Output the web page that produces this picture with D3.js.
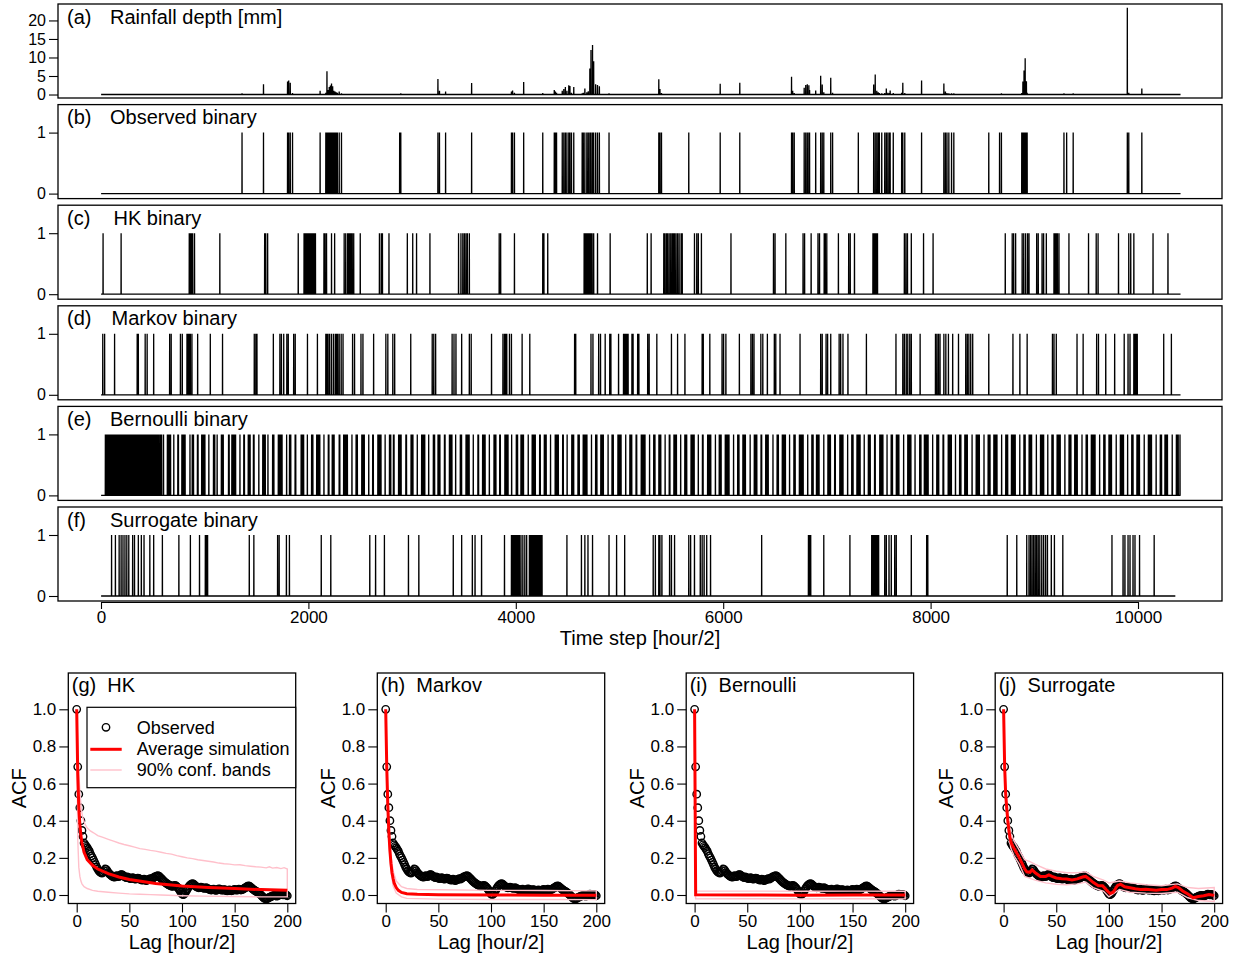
<!DOCTYPE html>
<html>
<head>
<meta charset="utf-8">
<script src="https://cdn.jsdelivr.net/npm/d3@7/dist/d3.min.js"></script>
<style>
  body { margin: 0; background: #fff; }
  svg { display: block; }
  text { font-family: "Liberation Sans", Arial, Helvetica, sans-serif; fill: #000; }
</style>
</head>
<body>
<svg id="fig" width="1237" height="955"></svg>
<script>
// ---------------- data ----------------
const nSteps = 10410;            // half-hourly steps in the record
const nStepsSurrogate = 10360;   // length of the surrogate series
const timeTicks = [0, 2000, 4000, 6000, 8000, 10000];
const rainTicks = [0, 5, 10, 15, 20];
const binaryTicks = [0, 1];

// observed rainfall: [time step, depth in mm]
const rainfall = [
  [1360,0.3],[1567,2.8],[1799,3.5],[1810,3.8],[1825,3.2],[1847,0.4],[2113,1.0],[2168,0.5],
  [2179,6.3],[2190,1.2],[2201,2.0],[2212,2.4],[2223,3.0],[2234,2.2],[2245,1.0],[2257,0.8],
  [2268,0.6],[2279,0.5],[2297,0.8],[2319,0.3],[2880,0.2],[2891,0.3],[3249,4.2],[3264,1.0],
  [3323,0.8],[3574,3.1],[3958,0.8],[3969,1.1],[3987,0.5],[4076,3.4],[4260,0.4],[4371,1.2],
  [4382,0.8],[4393,0.5],[4448,1.0],[4463,1.5],[4478,2.0],[4493,1.0],[4511,2.5],[4522,2.3],
  [4537,0.5],[4559,2.0],[4640,0.3],[4651,0.5],[4666,1.6],[4685,0.6],[4699,0.9],[4714,7.0],
  [4725,12.0],[4740,13.4],[4751,9.0],[4770,2.8],[4788,2.6],[4806,2.2],[4899,0.3],
  [5379,4.1],[5390,1.5],[5405,0.4],[5668,0.2],[5971,2.9],[6160,3.2],[6659,4.8],[6670,1.0],
  [6685,0.4],[6781,1.8],[6796,2.6],[6811,2.8],[6826,2.5],[6833,1.2],[6892,1.1],[6940,5.1],
  [6955,2.7],[6970,0.6],[7037,4.5],[7055,0.5],[7303,0.2],[7451,2.7],[7466,5.4],[7481,1.0],
  [7495,0.6],[7506,0.4],[7529,0.3],[7558,0.4],[7573,1.6],[7588,0.5],[7603,0.4],[7610,1.1],
  [7640,0.4],[7721,0.5],[7732,3.2],[7751,0.4],[7913,3.8],[8128,3.0],[8143,0.8],[8158,0.4],
  [8176,0.3],[8202,0.3],[8224,0.3],[8561,0.2],[8665,0.2],[8683,0.3],[8879,0.4],[8890,3.5],
  [8901,6.5],[8912,9.8],[8924,3.6],[8931,0.5],[9286,0.3],[9312,0.2],[9375,0.3],[9897,23.4],
  [9911,0.5],[10037,1.6]
];

// wet steps (value 1) of the simulated binary series
const hkEvents = [
  20,194,851,862,873,884,902,1146,1578,1589,1607,1902,1958,1969,1980,1991,2002,2013,2024,2035,
  2046,2057,2068,2150,2161,2175,2223,2253,2345,2360,2378,2389,2400,2411,2423,2437,2500,2685,2703,
  2714,2777,2954,3006,3043,3172,3448,3471,3489,3504,3519,3533,3552,3840,3854,3987,4260,4271,4308,
  4659,4670,4681,4692,4703,4714,4725,4736,4751,4788,4910,5268,
  5305,5427,5438,5453,5464,5479,5494,5508,5520,5531,5545,5560,5575,5594,5605,5723,5745,5760,5790,
  6075,6485,6500,6604,6770,6785,6848,6914,6929,6974,6985,6999,7111,7210,7225,7266,7444,7455,7466,
  7477,7488,7747,7762,7777,7814,7932,8024,8720,8787,8801,8820,8883,8898,8916,8935,8949,9023,9038,
  9075,9090,9116,9190,9201,9212,9223,9238,9334,9523,9597,9615,9812,9911,9930,9960,10145,10289
];
const markovEvents = [
  17,35,131,349,360,426,445,508,662,677,766,784,829,840,851,862,877,932,1054,1172,1478,1493,1504,
  1662,1725,1740,1762,1792,1806,1858,1873,1991,2087,2168,2179,2190,2205,2223,2242,2260,2271,2282,
  2297,2316,2334,2426,2445,2507,2526,2629,2747,2766,2814,2832,2987,3194,3209,3227,3386,3404,3423,
  3478,3552,3570,3766,3876,3891,3902,3913,3939,3958,4061,4135,4567,4578,4725,4744,4799,4817,4862,
  4906,4917,4991,
  5039,5050,5061,5072,5083,5120,5131,5175,5187,5272,5286,5360,5501,5560,5631,5797,5808,5871,5989,
  6004,6026,6156,6267,6282,6297,6363,6382,6426,6493,6507,6548,6741,6940,6955,6992,7007,7037,7118,
  7133,7155,7203,7381,7666,7732,7747,7765,7780,7799,7814,7899,8047,8061,8076,8091,8128,8147,8172,
  8213,8269,8339,8354,8369,8387,8406,8561,8794,8861,8931,9175,9190,9212,9412,9471,9601,9619,9689,
  9775,9867,9904,9923,9960,9971,9982,9993,10248,10322
];
const bernoulliEvents = [
  42,51,58,66,73,85,92,99,108,116,121,133,140,147,159,166,174,180,191,197,206,214,225,231,240,248,
  255,263,272,279,290,298,305,311,322,330,338,345,356,363,371,380,388,394,405,413,420,431,438,446,
  452,463,470,479,488,495,503,512,520,529,537,546,553,
  566,572,579,585,603,640,645,652,658,664,671,702,741,747,780,786,792,799,805,811,858,880,886,892,
  930,936,971,978,984,990,996,1002,1040,1085,1091,1097,1120,1161,1167,1173,1179,1230,1236,1262,1268,
  1274,1280,1286,1292,1298,1340,1377,1383,1420,1426,1432,1438,1470,1476,
  1522,1560,1566,1572,1578,1584,1610,1655,1661,1667,1710,1716,1722,1728,1734,1740,1746,1790,1818,
  1824,1830,1872,1878,1930,1936,1942,1948,1954,1990,2031,2037,2043,2080,2086,2092,2098,2104,2110,
  2150,2192,2198,2230,2236,2242,2248,2297,2303,2340,2346,2352,2358,2364,2370,2376,2420,2460,2466,2472,
  2515,2521,2527,2533,2539,2582,2620,2626,2670,2676,2682,2688,2694,2700,2740,2782,2788,2794,2820,
  2826,2870,2876,2882,2888,2894,2940,2946,2990,2996,3002,3008,3050,3092,3098,3104,3110,3116,3122,
  3160,3205,3211,3217,3250,3256,3262,3268,3312,3318,3360,3366,3372,3378,3384,3420,3465,3471,3477,
  3520,3526,3532,3538,3544,3550,3590,3635,3641,3680,3686,3692,3698,3704,3745,3790,3796,3802,3808,
  3845,3851,3895,3901,3907,3913,3919,3925,3960,4005,4011,4017,4050,4056,4062,4068,4074,4120,4158,
  4164,4170,4176,4182,4188,4230,4236,4275,4281,4287,4293,4335,4380,4386,4392,4398,4404,4410,4452,
  4458,4495,
  4540,4546,4552,4558,4600,4606,4612,4650,4656,4662,4668,4674,4680,4686,4730,4770,4776,4782,4820,
  4826,4832,4838,4844,4890,4928,4934,4940,4985,4991,4997,5003,5009,5015,5060,5100,5106,5112,5118,
  5160,5166,5210,5216,5222,5228,5234,5240,5246,5290,5330,5336,5342,5380,5386,5392,5398,5440,5480,5486,
  5525,5531,5537,5543,5549,5590,5630,5636,5642,5648,5690,5696,5702,5708,5714,5720,5760,5800,5806,
  5850,5856,5862,5868,5874,5880,5925,5962,5968,5974,5980,6020,6026,6032,6038,6044,6050,6056,6100,
  6140,6146,6152,6190,6196,6202,6208,6214,6260,6300,6306,6312,6318,6324,6365,6371,6410,6416,6422,
  6428,6434,6480,
  6520,6526,6532,6570,6576,6582,6588,6594,6600,6640,6682,6688,6694,6735,6741,6747,6753,6759,6765,
  6771,6815,6855,6861,6867,6900,6906,6912,6918,6924,6970,7010,7016,7022,7028,7034,7075,7081,7125,
  7131,7137,7143,7149,7155,7200,7240,7246,7252,7290,7296,7302,7308,7314,7320,7360,7400,7406,7412,
  7418,7460,7466,
  7510,7516,7522,7528,7534,7540,7580,7620,7626,7632,7670,7676,7682,7688,7694,7740,7780,7786,7792,
  7798,7804,7810,7850,7895,7901,7907,7940,7946,7952,7958,7964,7970,7976,8020,8060,8066,8072,8078,
  8120,8126,8170,8176,8182,8188,8194,8200,8240,8280,8286,8292,8330,8336,8342,8348,8354,8400,8440,
  8446,8452,8458,8464,8470,
  8515,8555,8561,8567,8573,8610,8616,8622,8628,8634,8640,8685,8725,8731,8737,8743,8780,8786,8792,
  8798,8804,8810,8816,8860,8900,8906,8912,8950,8956,8962,8968,8974,9020,9060,9066,9072,9078,9084,
  9090,9130,9170,9176,9182,9220,9226,9232,9238,9244,9250,9295,9335,9341,9347,9353,9390,9396,9402,
  9408,9414,9460,
  9500,9506,9512,9550,9556,9562,9568,9574,9580,9586,9630,9670,9676,9682,9720,9726,9732,9738,9744,
  9790,9830,9836,9842,9848,9854,9860,9900,9940,9946,9952,9990,9996,10002,10008,10014,10060,10100,
  10106,10112,10118,10124,10130,10175,10215,10221,10227,10260,10266,10272,10278,10284,10330,10370,
  10376,10382,10388,10405
];
const surrogateEvents = [
  102,139,175,194,212,231,249,268,305,323,360,389,415,471,508,592,751,862,950,1006,1017,1028,1430,
  1474,1703,1718,1788,1817,2124,2216,2592,2648,2733,2965,3065,3397,3478,3581,3607,3670,3891,3958,
  3969,3980,3991,4002,4013,4024,4035,4050,4068,4087,4105,4131,4142,4153,4164,4175,4186,4197,4208,
  4219,4230,4241,4253,4493,4633,4666,4696,4740,4899,4972,
  5050,5325,5346,5379,5390,5409,5483,5501,5531,5668,5686,5723,5779,5797,5816,5841,5878,6371,6822,
  6833,6844,6970,7222,7432,7444,7455,7466,7477,7488,7499,7558,7573,7599,7621,7654,7669,7814,7962,
  7973,8739,8831,8927,8949,8964,8979,8994,9009,9023,9038,9053,9072,9090,9109,9127,9164,9194,9275,
  9749,9856,9874,9904,9923,9952,9971,10015,10156
];

// autocorrelation of the observed binary series, lags 0..200
const lagTicks = [0, 50, 100, 150, 200];
const acfTicks = [0, 0.2, 0.4, 0.6, 0.8, 1.0];
const observedAcf = [
  1.000,0.690,0.543,0.470,0.400,0.348,0.315,0.280,0.270,0.262,
  0.255,0.245,0.236,0.222,0.210,0.200,0.188,0.176,0.163,0.150,
  0.140,0.131,0.124,0.120,0.118,0.122,0.130,0.140,0.138,0.130,
  0.121,0.114,0.109,0.104,0.100,0.098,0.096,0.099,0.104,0.101,
  0.099,0.104,0.109,0.110,0.105,0.100,0.097,0.094,0.098,0.095,
  0.091,0.088,0.090,0.093,0.091,0.087,0.085,0.088,0.091,0.089,
  0.086,0.083,0.080,0.082,0.085,0.081,0.078,0.080,0.083,0.086,
  0.088,0.086,0.089,0.093,0.097,0.099,0.101,0.104,0.102,0.097,
  0.091,0.085,0.079,0.073,0.068,0.064,0.060,0.056,0.053,0.050,
  0.048,0.046,0.049,0.052,0.050,0.045,0.040,0.033,0.024,0.015,
  0.006,0.002,0.004,0.012,0.022,0.032,0.041,0.049,0.055,0.059,
  0.061,0.058,0.053,0.048,0.044,0.041,0.039,0.040,0.042,0.040,
  0.038,0.036,0.037,0.039,0.036,0.033,0.030,0.028,0.027,0.029,
  0.031,0.028,0.025,0.026,0.030,0.033,0.031,0.028,0.026,0.027,
  0.029,0.027,0.024,0.022,0.024,0.027,0.025,0.023,0.025,0.028,
  0.030,0.028,0.026,0.028,0.031,0.029,0.027,0.029,0.032,0.035,
  0.038,0.042,0.046,0.049,0.047,0.043,0.038,0.033,0.029,0.025,
  0.021,0.018,0.014,0.010,0.005,0.000,-0.006,-0.012,-0.017,-0.020,
  -0.021,-0.019,-0.016,-0.013,-0.010,-0.008,-0.005,-0.003,-0.002,-0.004,
  -0.006,-0.004,-0.001,0.002,0.004,0.003,0.001,0.003,0.002,-0.001,
  -0.004
];

// simulated ACF: ensemble average and 90% bands, [lag, value]
const hkMean = [[0,1],[1,0.65],[2,0.47],[3,0.38],[4,0.32],[5,0.28],[7,0.23],[10,0.19],[15,0.16],[20,0.14],
  [30,0.115],[40,0.097],[50,0.084],[75,0.062],[100,0.049],[125,0.041],[150,0.035],[175,0.029],[200,0.025]];
const hkUpper = [[0,1],[1,0.8],[2,0.66],[3,0.56],[4,0.49],[5,0.44],[6,0.41],[8,0.38],[10,0.36],[13,0.345],
  [16,0.335],[20,0.32],[25,0.31],[30,0.3],[35,0.29],[40,0.28],[45,0.272],[50,0.265],[55,0.258],[60,0.25],
  [65,0.246],[70,0.24],[75,0.236],[80,0.23],[85,0.224],[90,0.22],[95,0.212],[100,0.206],[105,0.2],
  [110,0.196],[115,0.19],[120,0.186],[125,0.182],[130,0.178],[135,0.172],[140,0.168],[145,0.166],
  [150,0.162],[155,0.163],[160,0.158],[165,0.155],[170,0.152],[175,0.15],[180,0.146],[183,0.152],
  [186,0.145],[190,0.148],[194,0.142],[197,0.147],[200,0.14]];
const hkLower = [[0,1],[1,0.3],[2,0.15],[3,0.1],[4,0.075],[5,0.06],[7,0.045],[10,0.035],[15,0.025],[20,0.02],
  [30,0.015],[40,0.01],[50,0.006],[60,0.004],[70,0.002],[80,0.0],[100,-0.004],[120,-0.006],[150,-0.008],
  [175,-0.01],[200,-0.01]];
const markovMean = [[0,1],[1,0.69],[2,0.48],[3,0.34],[4,0.24],[5,0.17],[6,0.12],[7,0.09],[8,0.065],[10,0.04],
  [12,0.025],[15,0.014],[20,0.007],[30,0.004],[50,0.002],[100,0.0],[150,-0.001],[200,-0.001]];
const markovUpper = [[0,1],[1,0.72],[2,0.52],[3,0.38],[4,0.28],[5,0.21],[7,0.13],[10,0.075],[15,0.045],
  [20,0.035],[30,0.03],[50,0.028],[100,0.025],[150,0.024],[200,0.022]];
const markovLower = [[0,1],[1,0.66],[2,0.44],[3,0.3],[4,0.2],[5,0.13],[7,0.05],[10,0.01],[15,-0.01],
  [20,-0.018],[50,-0.022],[100,-0.024],[150,-0.024],[200,-0.025]];
const bernoulliMean = [[0,1],[1,0.001],[50,0.0],[100,-0.001],[150,0.0],[200,0.0]];
const bernoulliUpper = [[0,1],[1,0.022],[50,0.021],[100,0.02],[150,0.021],[200,0.02]];
const bernoulliLower = [[0,1],[1,-0.021],[50,-0.02],[100,-0.021],[150,-0.02],[200,-0.021]];
const surrogateMean = [[0,1],[1,0.69],[2,0.54],[3,0.465],[4,0.4],[5,0.35],[6,0.31],[7,0.285],[8,0.27],
  [10,0.25],[12,0.23],[15,0.2],[18,0.165],[20,0.14],[22,0.125],[25,0.122],[27,0.135],[30,0.12],[35,0.1],
  [40,0.1],[43,0.108],[46,0.1],[50,0.092],[55,0.088],[60,0.086],[65,0.081],[70,0.087],[75,0.097],
  [78,0.1],[80,0.092],[85,0.068],[90,0.05],[94,0.05],[98,0.025],[101,0.008],[104,0.015],[108,0.05],
  [111,0.058],[115,0.044],[120,0.039],[125,0.034],[130,0.03],[135,0.031],[140,0.028],[145,0.025],
  [150,0.029],[155,0.029],[160,0.037],[163,0.046],[166,0.04],[170,0.022],[175,0.005],[180,-0.015],
  [185,-0.008],[190,-0.004],[195,0.003],[200,-0.002]];
const surrogateUpper = [[0,1],[1,0.71],[2,0.57],[3,0.5],[4,0.44],[5,0.39],[7,0.33],[10,0.29],[15,0.24],
  [20,0.19],[25,0.18],[30,0.165],[40,0.14],[50,0.128],[60,0.12],[70,0.12],[78,0.125],[85,0.1],[95,0.08],
  [100,0.065],[110,0.075],[120,0.065],[135,0.055],[150,0.05],[165,0.06],[175,0.04],[185,0.035],[200,0.04]];
const surrogateLower = [[0,1],[1,0.67],[2,0.51],[3,0.43],[4,0.36],[5,0.31],[7,0.25],[10,0.21],[15,0.165],
  [20,0.1],[25,0.09],[30,0.08],[40,0.065],[50,0.058],[60,0.055],[70,0.06],[78,0.07],[85,0.04],[95,0.02],
  [100,-0.01],[110,0.03],[120,0.015],[135,0.01],[150,0.008],[165,0.015],[175,-0.015],[185,-0.03],[200,-0.035]];

// ---------------- drawing ----------------
const svg = d3.select("#fig");
const FONT_TICK = 17, FONT_TITLE = 20;

// full series 1..n from a sparse list of nonzero steps
function fullSeries(n, pairs) {
  const v = new Float64Array(n + 1);
  pairs.forEach(([t, val]) => { if (t >= 1 && t <= n) v[t] = val; });
  const out = [];
  for (let t = 1; t <= n; t++) out.push([t, v[t]]);
  return out;
}
const rainSeries = fullSeries(nSteps, rainfall);
const obsBinary = fullSeries(nSteps, rainfall.map(([t, mm]) => [t, mm > 0 ? 1 : 0]));
const hkBinary = fullSeries(nSteps, hkEvents.map(t => [t, 1]));
const markovBinary = fullSeries(nSteps, markovEvents.map(t => [t, 1]));
const bernoulliBinary = fullSeries(nSteps, bernoulliEvents.map(t => [t, 1]));
const surrogateBinary = fullSeries(nStepsSurrogate, surrogateEvents.map(t => [t, 1]));

const x = d3.scaleLinear().domain([0, 10000]).range([101, 1138]);
const boxL = 58, boxR = 1222, panelH = 94, pitch = 100.6, top0 = 4;

const panels = [
  { tag: "(a)", name: "Rainfall depth [mm]", nameX: 110, data: rainSeries, ydom: [-0.94, 24.44], ticks: rainTicks },
  { tag: "(b)", name: "Observed binary", nameX: 110, data: obsBinary, ydom: [-0.082, 1.459], ticks: binaryTicks },
  { tag: "(c)", name: "HK binary", nameX: 113.5, data: hkBinary, ydom: [-0.082, 1.459], ticks: binaryTicks },
  { tag: "(d)", name: "Markov binary", nameX: 111.5, data: markovBinary, ydom: [-0.082, 1.459], ticks: binaryTicks },
  { tag: "(e)", name: "Bernoulli binary", nameX: 110, data: bernoulliBinary, ydom: [-0.082, 1.459], ticks: binaryTicks },
  { tag: "(f)", name: "Surrogate binary", nameX: 110, data: surrogateBinary, ydom: [-0.082, 1.459], ticks: binaryTicks }
];

panels.forEach((p, i) => {
  const top = top0 + i * pitch, bottom = top + panelH;
  const y = d3.scaleLinear().domain(p.ydom).range([bottom, top]);
  const g = svg.append("g");
  const line = d3.line().x(d => x(d[0])).y(d => y(d[1]));
  g.append("path").datum(p.data).attr("d", line)
    .attr("fill", "none").attr("stroke", "#000").attr("stroke-width", 1.3);
  g.append("rect").attr("x", boxL).attr("y", top).attr("width", boxR - boxL).attr("height", panelH)
    .attr("fill", "none").attr("stroke", "#000").attr("stroke-width", 1.3);
  const ax = g.append("g").attr("transform", `translate(${boxL},0)`)
    .call(d3.axisLeft(y).tickValues(p.ticks).tickSize(9).tickPadding(3).tickSizeOuter(0)
      .tickFormat(d3.format("d")));
  ax.select(".domain").remove();
  ax.selectAll(".tick line").attr("stroke", "#000").attr("stroke-width", 1.1);
  ax.selectAll(".tick text").attr("font-size", 16);
  g.append("text").attr("x", 67).attr("y", top + 19.5).attr("font-size", FONT_TITLE).text(p.tag);
  g.append("text").attr("x", p.nameX).attr("y", top + 19.5).attr("font-size", FONT_TITLE).text(p.name);
});

// shared time axis under the last panel
const timeAxisY = top0 + 5 * pitch + panelH + 1;
const tAx = svg.append("g").attr("transform", `translate(0,${timeAxisY})`)
  .call(d3.axisBottom(x).tickValues(timeTicks).tickSize(7).tickPadding(2).tickSizeOuter(0).tickFormat(d3.format("d")));
tAx.select(".domain").attr("stroke-width", 1.2);
tAx.selectAll(".tick line").attr("stroke-width", 1.1);
tAx.selectAll(".tick text").attr("font-size", FONT_TICK);
svg.append("text").attr("x", (boxL + boxR) / 2).attr("y", 645).attr("text-anchor", "middle")
  .attr("font-size", FONT_TITLE).text("Time step [hour/2]");

// ACF panels
const acfPanels = [
  { tag: "(g)", name: "HK", mean: hkMean, upper: hkUpper, lower: hkLower, legend: true },
  { tag: "(h)", name: "Markov", mean: markovMean, upper: markovUpper, lower: markovLower },
  { tag: "(i)", name: "Bernoulli", mean: bernoulliMean, upper: bernoulliUpper, lower: bernoulliLower },
  { tag: "(j)", name: "Surrogate", mean: surrogateMean, upper: surrogateUpper, lower: surrogateLower }
];
const acfLeft = [68.3, 377.3, 686.2, 995.2];
const acfW = 227.4, acfTop = 673, acfBottom = 903.5;
const lags = observedAcf.map((v, k) => [k, v]);

acfPanels.forEach((p, i) => {
  const L = acfLeft[i];
  const xs = d3.scaleLinear().domain([0, 200]).range([L + 8.4, L + 8.4 + 210.6]);
  const ys = d3.scaleLinear().domain([0, 1]).range([895, 709.3]);
  const g = svg.append("g");
  const line = d3.line().x(d => xs(d[0])).y(d => ys(d[1]));

  g.append("g").selectAll("circle").data(lags).join("circle")
    .attr("cx", d => xs(d[0])).attr("cy", d => ys(d[1])).attr("r", 3.7)
    .attr("fill", "none").attr("stroke", "#000").attr("stroke-width", 1.4);

  // 90% band drawn as a closed outline: upper forward, lower back
  const band = p.upper.concat(p.lower.slice().reverse());
  g.append("path").datum(band).attr("d", d => line(d) + "Z")
    .attr("fill", "none").attr("stroke", "pink").attr("stroke-width", 1.4);
  g.append("path").datum(p.mean).attr("d", line)
    .attr("fill", "none").attr("stroke", "red").attr("stroke-width", 3);

  g.append("rect").attr("x", L).attr("y", acfTop).attr("width", acfW).attr("height", acfBottom - acfTop)
    .attr("fill", "none").attr("stroke", "#000").attr("stroke-width", 1.3);

  const ax = g.append("g").attr("transform", `translate(${L},0)`)
    .call(d3.axisLeft(ys).tickValues(acfTicks).tickSize(9).tickPadding(3).tickFormat(d3.format(".1f")));
  ax.select(".domain").remove();
  ax.selectAll(".tick line").attr("stroke-width", 1.1);
  ax.selectAll(".tick text").attr("font-size", FONT_TICK);
  const bx = g.append("g").attr("transform", `translate(0,${acfBottom})`)
    .call(d3.axisBottom(xs).tickValues(lagTicks).tickSize(9).tickPadding(2));
  bx.select(".domain").remove();
  bx.selectAll(".tick line").attr("stroke-width", 1.1);
  bx.selectAll(".tick text").attr("font-size", FONT_TICK);

  g.append("text").attr("x", L + 113.7).attr("y", 949).attr("text-anchor", "middle")
    .attr("font-size", FONT_TITLE).text("Lag [hour/2]");
  g.append("text").attr("transform", `translate(${L - 42},${(acfTop + acfBottom) / 2}) rotate(-90)`)
    .attr("text-anchor", "middle").attr("font-size", FONT_TITLE).text("ACF");
  g.append("text").attr("x", L + 3.5).attr("y", 692).attr("font-size", FONT_TITLE)
    .text(p.tag + "\u00a0\u00a0" + p.name);

  if (p.legend) {
    const lg = g.append("g");
    lg.append("rect").attr("x", L + 18.7).attr("y", 707.3).attr("width", acfW - 18.7).attr("height", 80.4)
      .attr("fill", "#fff").attr("stroke", "#000").attr("stroke-width", 1.2);
    lg.append("circle").attr("cx", L + 37.7).attr("cy", 727.3).attr("r", 3.7)
      .attr("fill", "none").attr("stroke", "#000").attr("stroke-width", 1.4);
    lg.append("line").attr("x1", L + 22).attr("x2", L + 53.4).attr("y1", 749.3).attr("y2", 749.3)
      .attr("stroke", "red").attr("stroke-width", 3);
    lg.append("line").attr("x1", L + 22).attr("x2", L + 53.4).attr("y1", 770).attr("y2", 770)
      .attr("stroke", "pink").attr("stroke-width", 1.4);
    const items = ["Observed", "Average simulation", "90% conf. bands"];
    items.forEach((t, k) => {
      lg.append("text").attr("x", L + 68.4).attr("y", 733.5 + k * 21.3).attr("font-size", 18).text(t);
    });
  }
});
</script>
</body>
</html>
